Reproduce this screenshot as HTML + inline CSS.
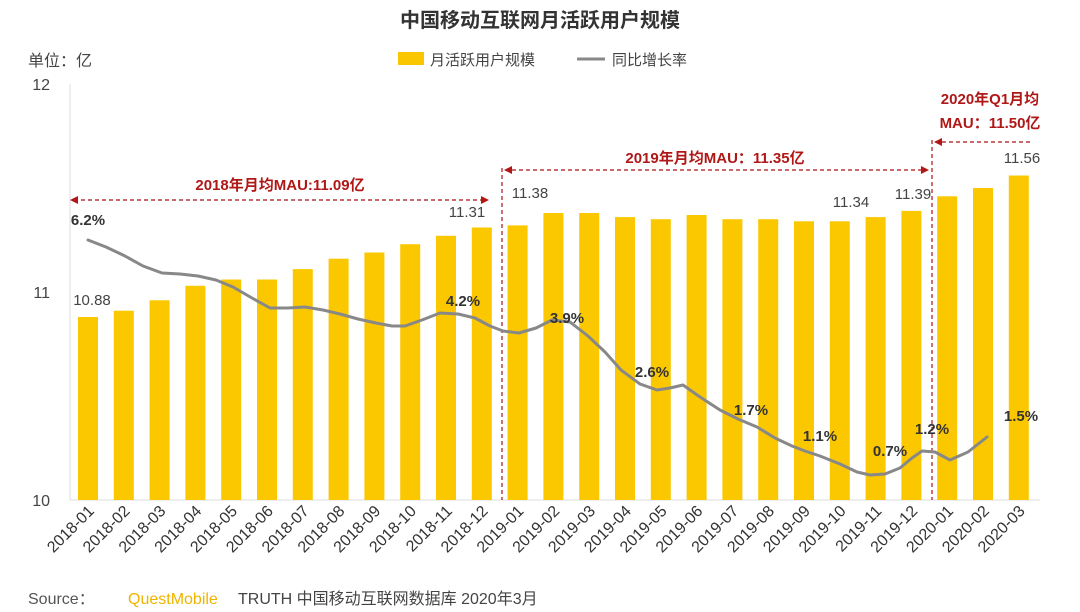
<!DOCTYPE html>
<html><head><meta charset="utf-8"><style>body{margin:0;background:#fff}svg{display:block}</style></head>
<body>
<svg width="1080" height="612" xmlns="http://www.w3.org/2000/svg" font-family="Liberation Sans, Noto Sans CJK SC, sans-serif">
<text x="540" y="27" text-anchor="middle" font-size="20" font-weight="bold" fill="#333">中国移动互联网月活跃用户规模</text>
<text x="28" y="66" font-size="16" fill="#444">单位：亿</text>
<rect x="398" y="52" width="26" height="13" fill="#f9c600"/>
<text x="430" y="65" font-size="15" fill="#444">月活跃用户规模</text>
<line x1="577" y1="59" x2="605" y2="59" stroke="#888" stroke-width="3"/>
<text x="612" y="65" font-size="15" fill="#444">同比增长率</text>
<line x1="70" y1="84" x2="70" y2="500" stroke="#ddd"/>
<line x1="70" y1="500" x2="1040" y2="500" stroke="#ddd"/>
<g font-size="16" fill="#444" text-anchor="end"><text x="50" y="90">12</text><text x="50" y="298">11</text><text x="50" y="506">10</text></g>
<g fill="#fbc800">
<rect x="78" y="317" width="20" height="183"/>
<rect x="113.8" y="310.7" width="20" height="189.3"/>
<rect x="149.6" y="300.3" width="20" height="199.7"/>
<rect x="185.4" y="285.8" width="20" height="214.2"/>
<rect x="221.2" y="279.5" width="20" height="220.5"/>
<rect x="257" y="279.5" width="20" height="220.5"/>
<rect x="292.8" y="269.1" width="20" height="230.9"/>
<rect x="328.6" y="258.7" width="20" height="241.3"/>
<rect x="364.4" y="252.5" width="20" height="247.5"/>
<rect x="400.2" y="244.2" width="20" height="255.8"/>
<rect x="436" y="235.8" width="20" height="264.2"/>
<rect x="471.8" y="227.5" width="20" height="272.5"/>
<rect x="507.6" y="225.4" width="20" height="274.6"/>
<rect x="543.4" y="213" width="20" height="287"/>
<rect x="579.2" y="213" width="20" height="287"/>
<rect x="615" y="217.1" width="20" height="282.9"/>
<rect x="650.8" y="219.2" width="20" height="280.8"/>
<rect x="686.6" y="215" width="20" height="285"/>
<rect x="722.4" y="219.2" width="20" height="280.8"/>
<rect x="758.2" y="219.2" width="20" height="280.8"/>
<rect x="794" y="221.3" width="20" height="278.7"/>
<rect x="829.8" y="221.3" width="20" height="278.7"/>
<rect x="865.6" y="217.1" width="20" height="282.9"/>
<rect x="901.4" y="210.9" width="20" height="289.1"/>
<rect x="937.2" y="196.3" width="20" height="303.7"/>
<rect x="973" y="188" width="20" height="312"/>
<rect x="1008.8" y="175.5" width="20" height="324.5"/>
</g>
<g font-size="16" fill="#333" text-anchor="end">
<text x="95" y="512" transform="rotate(-45 95 512)">2018-01</text>
<text x="130.8" y="512" transform="rotate(-45 130.8 512)">2018-02</text>
<text x="166.6" y="512" transform="rotate(-45 166.6 512)">2018-03</text>
<text x="202.4" y="512" transform="rotate(-45 202.4 512)">2018-04</text>
<text x="238.2" y="512" transform="rotate(-45 238.2 512)">2018-05</text>
<text x="274" y="512" transform="rotate(-45 274 512)">2018-06</text>
<text x="309.8" y="512" transform="rotate(-45 309.8 512)">2018-07</text>
<text x="345.6" y="512" transform="rotate(-45 345.6 512)">2018-08</text>
<text x="381.4" y="512" transform="rotate(-45 381.4 512)">2018-09</text>
<text x="417.2" y="512" transform="rotate(-45 417.2 512)">2018-10</text>
<text x="453" y="512" transform="rotate(-45 453 512)">2018-11</text>
<text x="488.8" y="512" transform="rotate(-45 488.8 512)">2018-12</text>
<text x="524.6" y="512" transform="rotate(-45 524.6 512)">2019-01</text>
<text x="560.4" y="512" transform="rotate(-45 560.4 512)">2019-02</text>
<text x="596.2" y="512" transform="rotate(-45 596.2 512)">2019-03</text>
<text x="632" y="512" transform="rotate(-45 632 512)">2019-04</text>
<text x="667.8" y="512" transform="rotate(-45 667.8 512)">2019-05</text>
<text x="703.6" y="512" transform="rotate(-45 703.6 512)">2019-06</text>
<text x="739.4" y="512" transform="rotate(-45 739.4 512)">2019-07</text>
<text x="775.2" y="512" transform="rotate(-45 775.2 512)">2019-08</text>
<text x="811" y="512" transform="rotate(-45 811 512)">2019-09</text>
<text x="846.8" y="512" transform="rotate(-45 846.8 512)">2019-10</text>
<text x="882.6" y="512" transform="rotate(-45 882.6 512)">2019-11</text>
<text x="918.4" y="512" transform="rotate(-45 918.4 512)">2019-12</text>
<text x="954.2" y="512" transform="rotate(-45 954.2 512)">2020-01</text>
<text x="990" y="512" transform="rotate(-45 990 512)">2020-02</text>
<text x="1025.8" y="512" transform="rotate(-45 1025.8 512)">2020-03</text>
</g>
<g stroke="#a11" stroke-width="1.2" stroke-dasharray="4,3" fill="none">
<line x1="74" y1="200" x2="486" y2="200"/><line x1="505" y1="170" x2="925" y2="170"/><line x1="935" y1="142" x2="1030" y2="142"/>
<line x1="502" y1="168" x2="502" y2="500"/><line x1="932" y1="140" x2="932" y2="500"/>
</g>
<g fill="#b01818"><path d="M70 200l8-4v8z"/><path d="M489 200l-8-4v8z"/><path d="M504 170l8-4v8z"/><path d="M929 170l-8-4v8z"/><path d="M934 142l8-4v8z"/></g>
<g font-size="15" font-weight="bold" fill="#b01818" text-anchor="middle">
<text x="280" y="190">2018年月均MAU:11.09亿</text>
<text x="715" y="163">2019年月均MAU：11.35亿</text>
<text x="990" y="104">2020年Q1月均</text>
<text x="990" y="128">MAU：11.50亿</text>
</g>
<polyline fill="none" stroke="#888" stroke-width="3" stroke-linejoin="round" stroke-linecap="round" points="88,240 106,247 125,256 143,266 162,273 180,274 198,276 216,280 233,287 252,298 270,308 288,308 305,307 323,310 340,314 358,319 376,323 392,326 405,326 422,320 440,313 458,314 475,318 490,326 503,331 519,333 536,328 552,320 570,322 588,336 605,352 621,370 640,384 657,390 670,388 683,385 700,397 720,410 738,419 757,427 775,438 792,446 805,451 820,456 840,464 857,472 870,475 885,474 900,468 912,458 922,451 935,452 950,460 968,452 987,437"/>
<g font-size="15" fill="#444" text-anchor="middle">
<text x="92" y="305">10.88</text><text x="467" y="217">11.31</text><text x="530" y="198">11.38</text><text x="851" y="207">11.34</text><text x="913" y="199">11.39</text><text x="1022" y="163">11.56</text>
</g>
<g font-size="15" font-weight="bold" fill="#333" text-anchor="middle">
<text x="88" y="225">6.2%</text><text x="463" y="306">4.2%</text><text x="567" y="323">3.9%</text><text x="652" y="377">2.6%</text><text x="751" y="415">1.7%</text><text x="820" y="441">1.1%</text><text x="890" y="456">0.7%</text><text x="932" y="434">1.2%</text><text x="1021" y="421">1.5%</text>
</g>
<text x="28" y="604" font-size="16" fill="#555">Source：</text>
<text x="128" y="604" font-size="16" fill="#f0b400">QuestMobile</text>
<text x="238" y="604" font-size="16" fill="#444">TRUTH 中国移动互联网数据库 2020年3月</text>
</svg>
</body></html>
